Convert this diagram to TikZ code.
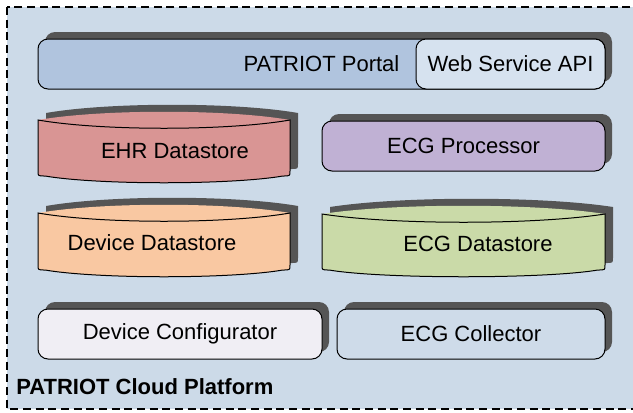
\documentclass[tikz,border=0pt]{standalone}
\usepackage{fontspec}
\setmainfont{Liberation Sans}
\usetikzlibrary{shadows}

\definecolor{cloudbg}{RGB}{204,218,232}
\definecolor{portalfill}{RGB}{176,196,222}
\definecolor{apifill}{RGB}{214,226,239}
\definecolor{ehrfill}{RGB}{217,149,148}
\definecolor{procfill}{RGB}{192,177,212}
\definecolor{devfill}{RGB}{249,200,162}
\definecolor{ecgfill}{RGB}{202,218,168}
\definecolor{conffill}{RGB}{240,238,244}
\definecolor{collfill}{RGB}{206,219,233}
\definecolor{shadowgray}{RGB}{85,85,85}

% datastore outline: x0, x1, top, bottom, y of top arc controls
\newcommand{\dbpath}[5]{(#1,#3)
    .. controls ({#1+0.25*(#2-#1)},#5) and ({#2-0.25*(#2-#1)},#5) .. (#2,#3)
    .. controls (#2,#3+2) .. (#2,#3+6)
    -- (#2,#4-5) .. controls (#2,#4) .. (#2-7,#4)
    .. controls (#2-60,#4+9) and (#1+60,#4+9) .. (#1+7,#4)
    .. controls (#1,#4) .. (#1,#4-5) -- (#1,#3+6) .. controls (#1,#3+2) .. cycle}
% datastore: x0, x1, top, bottom, colour
\newcommand{\dbcyl}[5]{%
  \pgfmathsetmacro{\dbback}{#3-11}
  \pgfmathsetmacro{\dbfront}{#3+11}
  \fill[shadowgray, shift={(8,-7)}] \dbpath{#1}{#2}{#3}{#4}{\dbback};
  \fill[#5] \dbpath{#1}{#2}{#3}{#4}{\dbback};
  \draw[line width=0.75pt] \dbpath{#1}{#2}{#3}{#4}{\dbfront};
}

\begin{document}
\begin{tikzpicture}[x=0.75pt,y=-0.75pt,
  compbox/.style={draw=black, line width=0.75pt, rounded corners=7.5pt,
    minimum height=37.5pt},
  boxshadow/.style={drop shadow={shadow xshift=5.25pt, shadow yshift=5.25pt,
    fill=shadowgray, opacity=1}},
  lbl/.style={font=\fontsize{16.5}{19}\selectfont}]
 	\tikzstyle{every node}+=[inner sep=0pt]
 	\useasboundingbox (0,0) rectangle (633,412);
 	\clip (0,0) rectangle (633,412);
 	% cloud platform
 	\fill [cloudbg] (7,7) rectangle (645,409);
 	\draw [black, line width=1.1pt, dash pattern=on 6pt off 3.5pt] (7,7) rectangle (645,409);
 	\node [anchor=west, font=\bfseries\fontsize{16.5}{19}\selectfont] (cloud) at (16,387) {PATRIOT Cloud Platform};
 	% portal row
 	\node [compbox, boxshadow, lbl, fill=portalfill, minimum width=425.25pt] (portal) at (321.5,64) {PATRIOT Portal};
 	\node [compbox, lbl, fill=apifill, minimum width=141.75pt] (api) at (510.5,64) {Web Service API};
 	% datastores
 	\dbcyl{38}{290}{120}{176}{ehrfill}
 	\node [lbl] (ehr) at (175,151) {EHR Datastore};
 	\node [compbox, boxshadow, lbl, fill=procfill, minimum width=212.25pt] (proc) at (463.5,146) {ECG Processor};
 	\dbcyl{38}{290}{213}{270}{devfill}
 	\node [lbl] (devstore) at (152,243) {Device Datastore};
 	\dbcyl{322}{605}{214}{270}{ecgfill}
 	\node [lbl] (ecgstore) at (478,244) {ECG Datastore};
 	% collectors
 	\node [compbox, boxshadow, lbl, fill=conffill, minimum width=213pt] (config) at (180,334) {Device Configurator};
 	\node [compbox, boxshadow, lbl, fill=collfill, minimum width=201pt] (collect) at (471,334) {ECG Collector};
\end{tikzpicture}
\end{document}
